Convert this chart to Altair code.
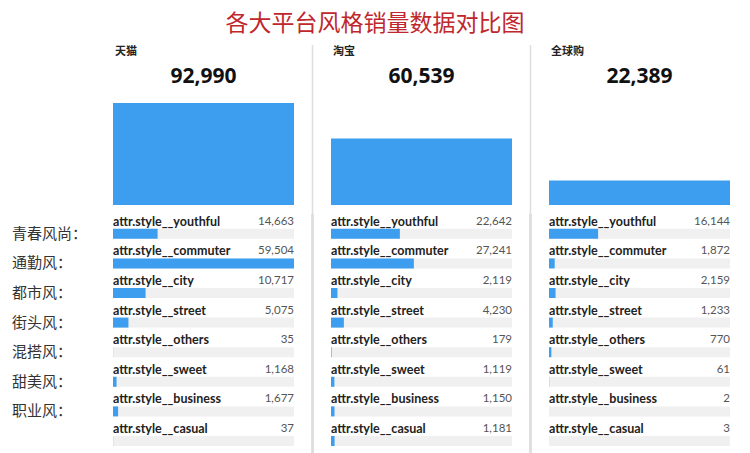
import altair as alt
import pandas as pd

platforms = ["天猫", "淘宝", "全球购"]
totals = [92990, 60539, 22389]
styles = ["attr.style__youthful", "attr.style__commuter", "attr.style__city",
          "attr.style__street", "attr.style__others", "attr.style__sweet",
          "attr.style__business", "attr.style__casual"]
tmall = [14663, 59504, 10717, 5075, 35, 1168, 1677, 37]
taobao = [22642, 27241, 2119, 4230, 179, 1119, 1150, 1181]
globalbuy = [16144, 1872, 2159, 1233, 770, 61, 2, 3]
cn_labels = ["青春风尚：", "通勤风：", "都市风：", "街头风：", "混搭风：", "甜美风：", "职业风："]

series = [tmall, taobao, globalbuy]
row_max = max(max(s) for s in series)
top_max = max(totals)

BLUE = "#3d9ef0"
BG = "#f0f0f0"
W = 181
TOP_H = 163
ROW_H = 236.8
FONT = "Open Sans"
LFONT = "Lato"


def top_chart(i):
    name = platforms[i]
    tdf = pd.DataFrame({"platform": [name], "total": [totals[i]],
                        "label": [f"{totals[i]:,}"]})
    xs = alt.X("platform:N", axis=None, scale=alt.Scale(paddingInner=0, paddingOuter=0))
    bar = alt.Chart(tdf).mark_bar(color=BLUE).encode(
        x=xs,
        y=alt.Y("total:Q", axis=None,
                scale=alt.Scale(domain=[0, top_max * 163 / 102], nice=False)),
    )
    header = alt.Chart(tdf).mark_text(align="left", baseline="middle", fontSize=11,
                                      fontWeight="bold", font="Noto Sans CJK SC",
                                      color="#222").encode(
        x=alt.value(2), y=alt.value(10), text="platform:N")
    number = alt.Chart(tdf).mark_text(align="center", baseline="middle", fontSize=21,
                                      fontWeight="bold", font=FONT, color="#111").encode(
        x=alt.value(W / 2), y=alt.value(35), text="label:N")
    layers = [bar, header, number]
    if i > 0:
        layers.append(alt.Chart(tdf).mark_rule(color="#dddddd", strokeWidth=1.5).encode(
            x=alt.value(-18.5), y=alt.value(3), y2=alt.value(TOP_H + 9)))
    return alt.layer(*layers).properties(width=W, height=TOP_H)


def rows_chart(i):
    rdf = pd.DataFrame({"style": styles, "value": series[i],
                        "vlabel": [f"{v:,}" for v in series[i]],
                        "full": [row_max] * len(styles)})
    ys = alt.Y("style:N", sort=styles, axis=None,
               scale=alt.Scale(paddingInner=0, paddingOuter=0))
    xq = alt.Scale(domain=[0, row_max], nice=False)
    bg = alt.Chart(rdf).mark_bar(color=BG, height=10, yOffset=5).encode(
        y=ys, x=alt.X("full:Q", axis=None, scale=xq))
    fg = alt.Chart(rdf).mark_bar(color=BLUE, height=10, yOffset=5).encode(
        y=ys, x=alt.X("value:Q", axis=None, scale=xq))
    lbl = alt.Chart(rdf).mark_text(align="left", baseline="middle", dy=-7, fontSize=12.5,
                                   fontWeight="bold", font=LFONT, color="#222").encode(
        y=ys, x=alt.value(0), text="style:N")
    val = alt.Chart(rdf).mark_text(align="right", baseline="middle", dy=-7, fontSize=11.5,
                                   font=LFONT, color="#555").encode(
        y=ys, x=alt.value(W), text="vlabel:N")
    layers = [bg, fg, lbl, val]
    if i == 0:
        cdf = pd.DataFrame({"style": styles[:len(cn_labels)], "cn": cn_labels})
        layers.append(alt.Chart(cdf).mark_text(align="left", baseline="middle", dy=5,
                                               fontSize=15, font="Noto Sans CJK SC",
                                               color="#333").encode(
            y=ys, x=alt.value(-101), text="cn:N"))
    else:
        layers.append(alt.Chart(rdf).mark_rule(color="#dddddd", strokeWidth=1.5).encode(
            x=alt.value(-18.5), y=alt.value(0), y2=alt.value(ROW_H + 5)))
    return alt.layer(*layers).properties(width=W, height=ROW_H)


cells = [top_chart(i) for i in range(3)] + [rows_chart(i) for i in range(3)]
chart = alt.concat(*cells, columns=3, spacing={"row": 9, "column": 37},
                   bounds="flush").properties(
    title=alt.TitleParams("各大平台风格销量数据对比图", fontSize=23, color="#c0272d",
                          font="Noto Sans CJK SC", fontWeight="normal", anchor="middle",
                          dx=4, offset=6),
    padding={"left": 4, "top": 5, "right": 4, "bottom": 0},
    background="white",
).configure_view(strokeWidth=0, stroke="transparent")

chart.save("out.html", embed_options={"renderer": "svg", "actions": False})
